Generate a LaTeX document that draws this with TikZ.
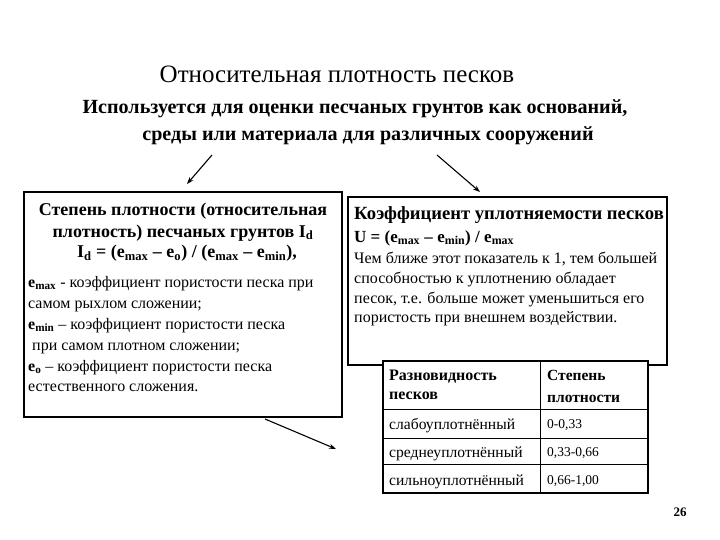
\documentclass[tikz,border=0pt]{standalone}
\usepackage{fontspec}
\setmainfont{Liberation Serif}
\usetikzlibrary{arrows.meta}
\newcommand{\ee}[1]{\textbf{e}\textsubscript{\textbf{#1}}}
\tikzset{
  box/.style={draw=black, line width=1.1pt},
  tbl/.style={draw=black, line width=1.8pt},
  arr/.style={-{Stealth[length=7pt,width=5pt]}, line width=1.1pt},
  ttl/.style={font=\fontsize{25}{28}\selectfont, anchor=base},
  sub/.style={font=\fontsize{20.1}{22}\selectfont\bfseries, anchor=base},
  hdr/.style={font=\fontsize{18}{20}\selectfont\bfseries, anchor=base, inner sep=0pt},
  rhdr/.style={font=\fontsize{18.6}{21}\selectfont\bfseries, anchor=base west, inner sep=0pt},
  bodyl/.style={font=\fontsize{16}{18}\selectfont, anchor=base west, inner sep=0pt},
  tcell/.style={font=\fontsize{15.6}{18}\selectfont, anchor=base west, inner sep=0pt},
  thdr/.style={font=\fontsize{15.5}{18}\selectfont\bfseries, anchor=base west, inner sep=0pt},
  tnum/.style={font=\fontsize{13.5}{15}\selectfont, anchor=base west, inner sep=0pt}
}
\begin{document}
\begin{tikzpicture}[x=1pt,y=-1pt]
\useasboundingbox (0,0) rectangle (720,540);
% title
\node[ttl] (title) at (337,83) {Относительная плотность песков};
\node[sub] (sub1) at (355,114) {Используется для оценки песчаных грунтов как оснований,};
\node[sub] (sub2) at (368,141) {среды или материала для различных сооружений};
% left box
\draw[box] (24,192) rectangle (342,417);
\node[hdr] (l1) at (183,215) {Степень плотности (относительная};
\node[hdr] (l2) at (183,237) {плотность) песчаных грунтов I\textsubscript{d}};
\node[hdr] (l3) at (187,258) {I\textsubscript{d} = (\ee{max} – \ee{o}) / (\ee{max} – \ee{min}),};
\node[bodyl] (l4) at (28,287) {\ee{max} - коэффициент пористости песка при};
\node[bodyl] (l5) at (28,308) {самом рыхлом сложении;};
\node[bodyl] (l6) at (28,329) {\ee{min} – коэффициент пористости песка};
\node[bodyl] (l7) at (32,350) {при самом плотном сложении;};
\node[bodyl] (l8) at (28,371) {\ee{o} – коэффициент пористости песка};
\node[bodyl] (l9) at (28,391) {естественного сложения.};
% right box
\draw[box] (348,197) rectangle (667,365);
\node[rhdr] (r1) at (354,219) {Коэффициент уплотняемости песков};
\node[rhdr, font=\fontsize{17}{19}\selectfont\bfseries] (r2) at (354,242) {U = (\ee{max} – \ee{min}) / \ee{max}};
\node[bodyl] (r3) at (354,263) {Чем ближе этот показатель к 1, тем большей};
\node[bodyl] (r4) at (354,283) {способностью к уплотнению обладает};
\node[bodyl] (r5) at (354,303) {песок, т.е. больше может уменьшиться его};
\node[bodyl] (r6) at (354,322) {пористость при внешнем воздействии.};
% table
\fill[white] (383,361) rectangle (648,493);
\draw[tbl] (383,361) rectangle (648,493);
\draw[line width=0.8pt] (540,361) -- (540,493);
\draw[line width=0.8pt] (383,409) -- (648,409);
\draw[line width=0.8pt] (383,438) -- (648,438);
\draw[line width=0.8pt] (383,464) -- (648,464);
\node[thdr, font=\fontsize{16}{18}\selectfont\bfseries] (t11) at (389,380) {Разновидность};
\node[thdr, font=\fontsize{16}{18}\selectfont\bfseries] (t12) at (389,399) {песков};
\node[thdr] (t13) at (547,380) {Степень};
\node[thdr] (t14) at (547,402) {плотности};
\node[tcell] (a1) at (389,429) {слабоуплотнённый};
\node[tnum] (b1) at (547,428) {0-0,33};
\node[tcell] (a2) at (389,457) {среднеуплотнённый};
\node[tnum] (b2) at (547,456) {0,33-0,66};
\node[tcell] (a3) at (389,485) {сильноуплотнённый};
\node[tnum] (b3) at (547,484) {0,66-1,00};
% page number
\node[font=\fontsize{13}{15}\selectfont\bfseries, anchor=base] (pg) at (680,516) {26};
% arrows
\coordinate (a1s) at (212,155);
\coordinate (a1e) at (187,184);
\coordinate (a2s) at (437,155);
\coordinate (a2e) at (480,192);
\coordinate (a3s) at (265,419);
\coordinate (a3e) at (336,449);
\draw[arr] (a1s) -- (a1e);
\draw[arr] (a2s) -- (a2e);
\draw[arr] (a3s) -- (a3e);
\end{tikzpicture}
\end{document}
